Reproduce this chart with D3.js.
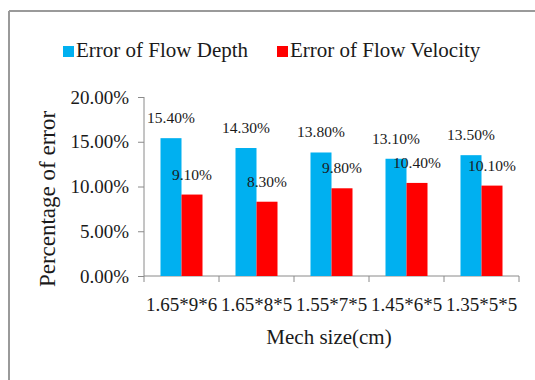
<!DOCTYPE html>
<html>
<head>
<meta charset="utf-8">
<script src="https://cdn.jsdelivr.net/npm/d3@7"></script>
<style>
  html, body { margin: 0; padding: 0; background: #fff; }
  svg { display: block; }
</style>
</head>
<body>
<svg id="chart" width="535" height="380" font-family="Liberation Serif, Times New Roman, serif"></svg>
<script>
// Mesh sizes and the error of each simulated quantity (percent)
const categories = ["1.65*9*6", "1.65*8*5", "1.55*7*5", "1.45*6*5", "1.35*5*5"];
const seriesNames = ["Error of Flow Depth", "Error of Flow Velocity"];
const depthError = [15.4, 14.3, 13.8, 13.1, 13.5];
const velocityError = [9.1, 8.3, 9.8, 10.4, 10.1];
const yTicks = [0, 5, 10, 15, 20];
const colors = ["#00B0F0", "#FF0000"];

const seriesValues = [depthError, velocityError];
const FONT = "Liberation Serif";
const INK = "#1a1a1a";

const svg = d3.select("#chart");
const W = 535, H = 380;
const plot = { left: 144, right: 519, top: 97, bottom: 276 };

function label(sel) {
  return sel.attr("font-family", FONT).attr("fill", INK);
}

// frame lines (top and left edge of the chart area)
svg.append("line").attr("x1", 9).attr("x2", W).attr("y1", 11).attr("y2", 11)
  .attr("stroke", "#9a9a9a").attr("stroke-width", 2);
svg.append("line").attr("x1", 9).attr("x2", 9).attr("y1", 11).attr("y2", H)
  .attr("stroke", "#9a9a9a").attr("stroke-width", 2);

const x = d3.scaleBand().domain(categories).range([plot.left, plot.right]).paddingInner(0).paddingOuter(0);
const y = d3.scaleLinear().domain([0, 20]).range([plot.bottom, plot.top]);
const barW = 21;
const xs = d3.scaleBand().domain(seriesNames).range([0, barW * 2]);

// y axis
const yAxis = svg.append("g").attr("transform", `translate(${plot.left},0)`)
  .call(d3.axisLeft(y).tickValues(yTicks).tickSize(6).tickPadding(9)
    .tickFormat(d => d.toFixed(2) + "%"));
yAxis.attr("font-family", FONT);
yAxis.select(".domain").attr("stroke", "#8a8a8a").attr("d", `M0,${plot.top}V${plot.bottom}`);
yAxis.selectAll(".tick line").attr("stroke", "#8a8a8a");
label(yAxis.selectAll(".tick text")).attr("font-size", 19);

// x axis with boundary ticks between categories
const xAxisG = svg.append("g").attr("transform", `translate(0,${plot.bottom})`);
xAxisG.append("line").attr("x1", plot.left).attr("x2", plot.right).attr("stroke", "#8a8a8a");
const bounds = categories.map(c => x(c)).concat([plot.right]);
xAxisG.selectAll("line.tk").data(bounds).join("line").attr("class", "tk")
  .attr("x1", d => d).attr("x2", d => d).attr("y1", 0).attr("y2", 6).attr("stroke", "#8a8a8a");
label(xAxisG.selectAll("text.cat").data(categories).join("text").attr("class", "cat"))
  .attr("x", d => x(d) + x.bandwidth() / 2).attr("y", 35)
  .attr("text-anchor", "middle").attr("font-size", 19).text(d => d);

// bars and value labels
seriesNames.forEach((name, si) => {
  const vals = seriesValues[si];
  const g = svg.append("g");
  g.selectAll("rect").data(categories).join("rect")
    .attr("x", (c) => x(c) + (x.bandwidth() - barW * 2) / 2 + xs(name))
    .attr("y", (c, i) => y(vals[i]))
    .attr("width", barW)
    .attr("height", (c, i) => y(0) - y(vals[i]))
    .attr("fill", colors[si]);
  label(g.selectAll("text").data(categories).join("text"))
    .attr("x", (c) => x(c) + (x.bandwidth() - barW * 2) / 2 + xs(name) + barW / 2)
    .attr("y", (c, i) => y(vals[i]) - 15)
    .attr("text-anchor", "middle").attr("font-size", 15.5)
    .text((c, i) => vals[i].toFixed(2) + "%");
});

// legend
const legend = [{ x: 63, name: seriesNames[0] }, { x: 277, name: seriesNames[1] }];
legend.forEach((d, i) => {
  svg.append("rect").attr("x", d.x).attr("y", 46).attr("width", 11).attr("height", 11).attr("fill", colors[i]);
  label(svg.append("text")).attr("x", d.x + 13).attr("y", 57).attr("font-size", 21).text(d.name);
});

// axis titles
label(svg.append("text")).attr("x", 329).attr("y", 344).attr("text-anchor", "middle")
  .attr("font-size", 21).text("Mech size(cm)");
label(svg.append("text")).attr("transform", "translate(55,199) rotate(-90)")
  .attr("text-anchor", "middle").attr("font-size", 23).text("Percentage of error");
</script>
</body>
</html>
